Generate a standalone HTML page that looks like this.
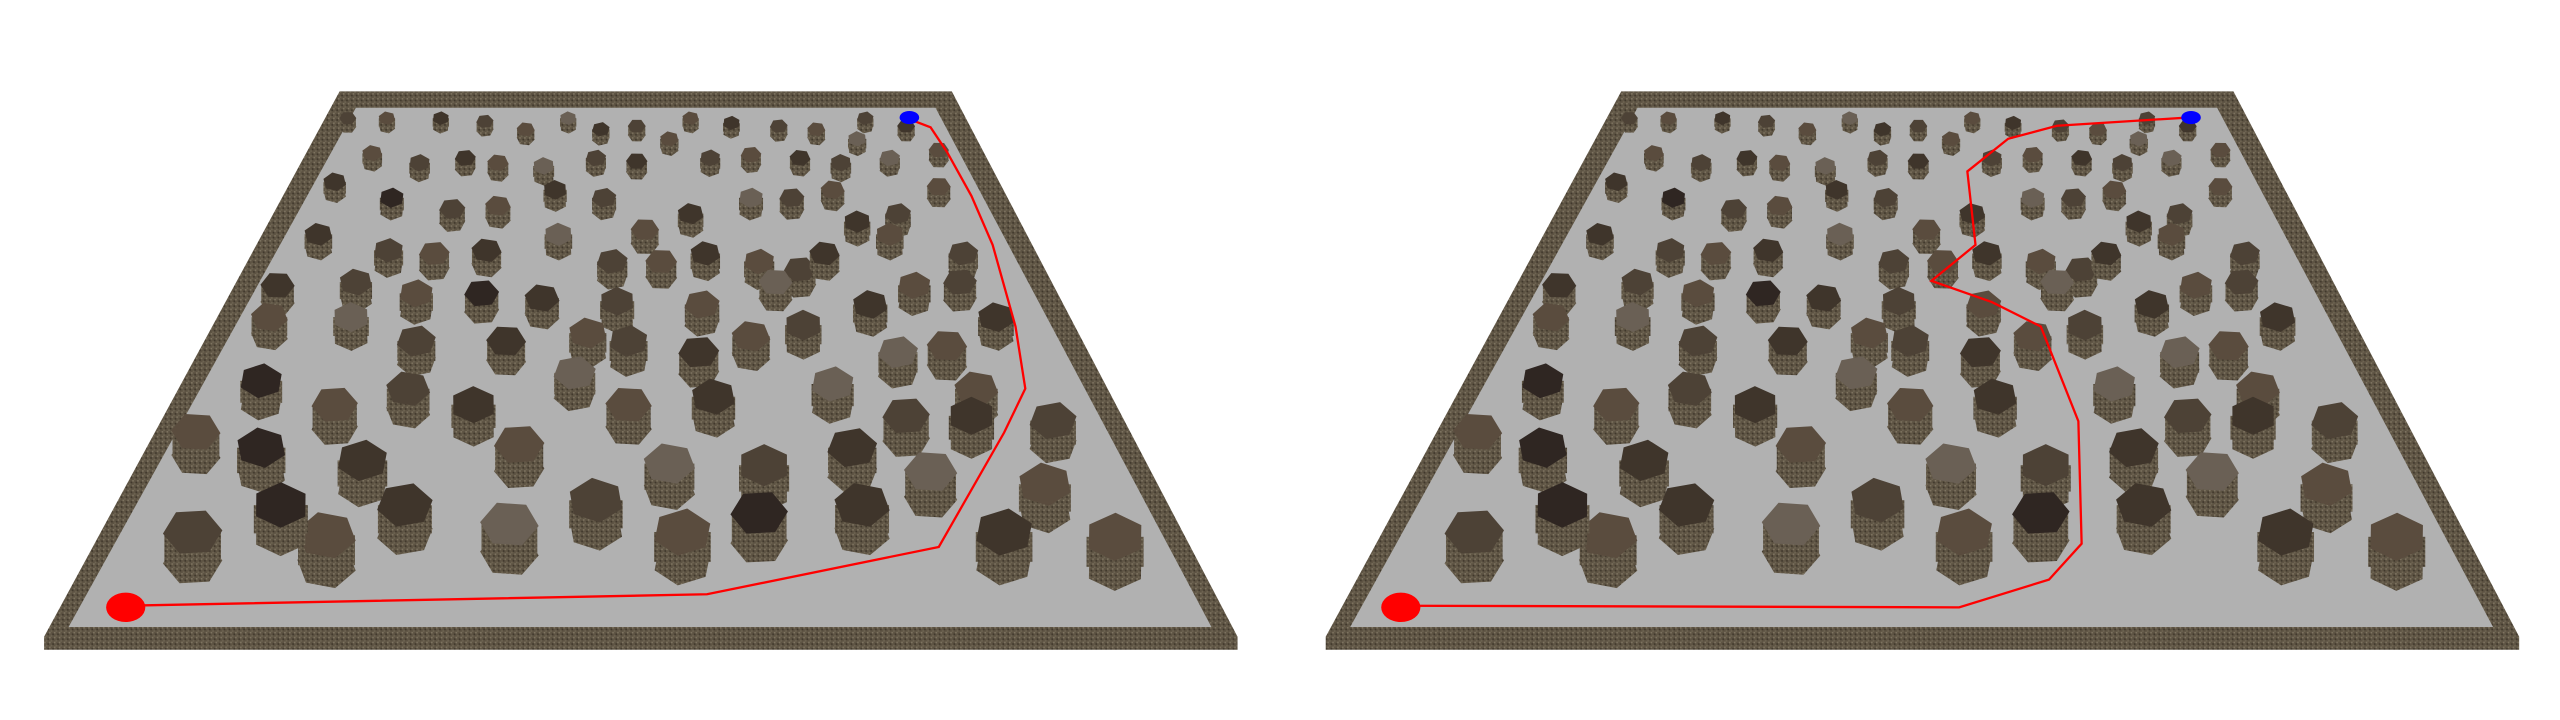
<!DOCTYPE html>
<html><head><meta charset="utf-8"><style>
html,body{margin:0;padding:0;background:#fff;width:2560px;height:720px;overflow:hidden}
svg{display:block}
</style></head><body>
<svg id="scene" width="2560" height="720" viewBox="0 0 1568 441" preserveAspectRatio="none" xmlns="http://www.w3.org/2000/svg">
<defs>
<pattern id="tex" width="3" height="3" patternUnits="userSpaceOnUse">
<rect width="3" height="3" fill="#5d5343"/><rect x="0" y="0" width="1" height="1" fill="#7d7360"/><rect x="2" y="1" width="1" height="1" fill="#3f372b"/><rect x="1" y="2" width="1" height="1" fill="#6e6452"/>
</pattern>
</defs>
</svg>
<script>
const obsX=[213,237,270,297,322,348,368,390,423,448,477,500,525,530,555,228,257,285,305,333,365,390,410,435,460,490,515,545,575,205,240,277,305,340,370,395,423,460,485,510,525,550,575,195,238,266,298,342,375,405,432,465,490,505,545,590,170,218,255,295,332,378,430,475,533,560,588,165,215,255,310,360,385,428,460,492,550,580,610,160,205,250,290,352,385,437,510,555,598,595,645,120,160,222,318,410,468,522,570,640,615,118,200,172,248,312,365,418,465,528,683];
const obsY=[75,75,75,77,82,75,82,80,75,78,80,82,88,75,80,97,103,100,103,105,100,102,88,100,98,100,103,100,95,115,125,132,130,120,125,145,135,125,125,120,140,135,118,148,158,160,158,148,165,165,160,165,170,160,148,160,180,178,185,185,188,190,192,178,192,180,178,200,200,215,215,210,215,222,212,205,222,218,200,240,255,245,255,235,255,250,242,262,245,262,265,272,282,290,280,292,293,282,297,305,335,335,337,318,318,330,315,335,323,318,338];
const obsShade=[0,1,2,0,1,3,2,0,1,2,0,1,3,0,2,1,0,2,1,3,0,2,1,0,1,2,0,3,1,2,4,0,1,2,0,1,2,3,0,1,2,0,1,2,0,1,2,3,0,1,2,1,0,2,1,0,2,0,1,4,2,0,1,3,2,1,0,1,3,0,2,1,0,2,1,0,3,1,2,4,1,0,2,3,1,2,3,0,1,2,0,1,4,2,1,3,0,2,3,1,2,0,1,4,2,3,0,1,4,2,1];
const pathLX=[77,433,575,615,628,622,608,595,580,570,557];
const pathLY=[371,364,335,265,238,200,150,120,93,78,73];
const pathRX=[858,1200,1255,1275,1273,1250,1220,1183,1210,1205,1230,1260,1340];
const pathRY=[371,372,355,333,258,200,185,172,150,105,85,77,72];
const panelOffsets=[0,785];
const NS="http://www.w3.org/2000/svg";
const svg=document.getElementById('scene');
const tops=['#4d4236','#5a4c3e','#3f352b','#6a6055','#2f2622'];
function mk(t,a){const e=document.createElementNS(NS,t);for(const k in a)e.setAttribute(k,a[k]);return e;}
panelOffsets.forEach((dx,pi)=>{
 const g=mk('g',{});
 
 
 const wall=mk('polygon',{points:`${208+dx},56 ${583+dx},56 ${758+dx},390 ${758+dx},398 ${27+dx},398 ${27+dx},390`,fill:'url(#tex)'});
 
 
 g.appendChild(wall);
 const floor=mk('polygon',{points:`${218+dx},66 ${573+dx},66 ${742+dx},384 ${42+dx},384`,fill:'#b1b1b1'});
 
 
 g.appendChild(floor);
 for(let i=0;i<obsX.length;i++){
  const x=obsX[i]+dx,y=obsY[i],r=4.5+(y-60)*0.05,h=r*0.5;
  const og=mk('g',{});
  
  
  let top=[];
  for(let k=0;k<6;k++){const a=Math.PI/3*k+0.3*i;top.push([x+r*Math.cos(a),y-h+r*0.8*Math.sin(a)]);}
  const bottom=top.map(p=>[p[0],p[1]+h*2]);
  og.appendChild(mk('polygon',{points:bottom.map(p=>p.join(',')).join(' '),fill:'url(#tex)'}));
  og.appendChild(mk('rect',{x:x-r*0.95,y:y-h,width:1.9*r,height:h*2,fill:'url(#tex)'}));
  og.appendChild(mk('polygon',{points:top.map(p=>p.join(',')).join(' '),fill:tops[obsShade[i]]}));
  g.appendChild(og);
 }
 const px=pi?pathRX:pathLX,py=pi?pathRY:pathLY;
 const pl=mk('polyline',{points:px.map((v,j)=>v+','+py[j]).join(' '),fill:'none',stroke:'#ff0000','stroke-width':1.4});
 
 
 g.appendChild(pl);
 const s=mk('ellipse',{cx:px[0],cy:py[0]+1,rx:12,ry:9,fill:'#ff0000'});
 
 
 g.appendChild(s);
 const gl=mk('ellipse',{cx:557+dx,cy:72,rx:6,ry:4,fill:'#0000ff'});
 
 
 g.appendChild(gl);
 svg.appendChild(g);
});
</script>
</body></html>
